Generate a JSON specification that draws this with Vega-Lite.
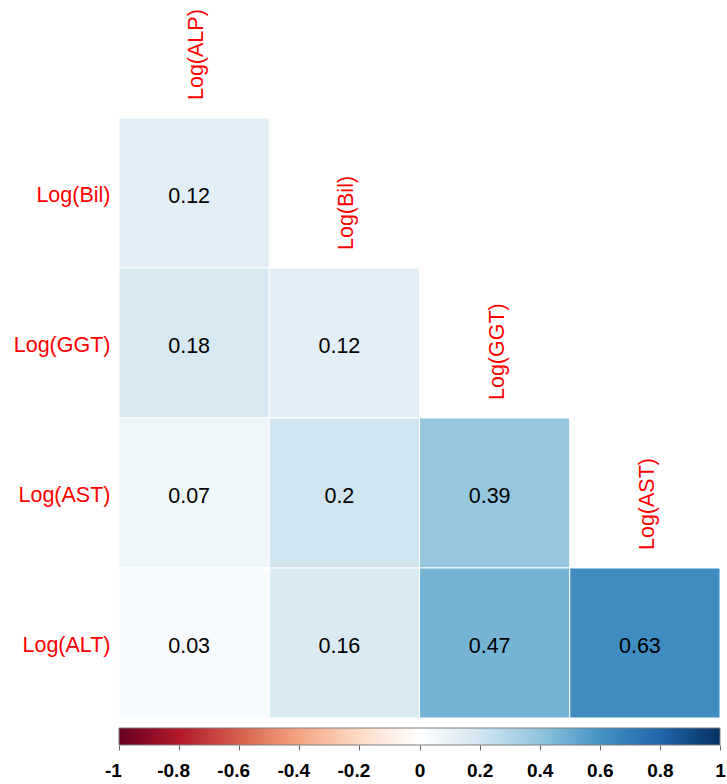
{
  "$schema": "https://vega.github.io/schema/vega-lite/v6.json",
  "padding": {"left": 13, "top": 9, "right": 0, "bottom": 0},
  "bounds": "flush",
  "spacing": 10,
  "config": {
    "font": "Liberation Sans",
    "view": {"stroke": null}
  },
  "datasets": {
    "cells": [
      {"row": "Log(Bil)", "col": "Log(ALP)", "r": 0.12},
      {"row": "Log(GGT)", "col": "Log(ALP)", "r": 0.18},
      {"row": "Log(GGT)", "col": "Log(Bil)", "r": 0.12},
      {"row": "Log(AST)", "col": "Log(ALP)", "r": 0.07},
      {"row": "Log(AST)", "col": "Log(Bil)", "r": 0.2},
      {"row": "Log(AST)", "col": "Log(GGT)", "r": 0.39},
      {"row": "Log(ALT)", "col": "Log(ALP)", "r": 0.03},
      {"row": "Log(ALT)", "col": "Log(Bil)", "r": 0.16},
      {"row": "Log(ALT)", "col": "Log(GGT)", "r": 0.47},
      {"row": "Log(ALT)", "col": "Log(AST)", "r": 0.63}
    ],
    "collabels": [
      {"var": "Log(ALP)", "top": "Log(Bil)"},
      {"var": "Log(Bil)", "top": "Log(GGT)"},
      {"var": "Log(GGT)", "top": "Log(AST)"},
      {"var": "Log(AST)", "top": "Log(ALT)"}
    ],
    "bar": [{"lo": -1, "hi": 1}]
  },
  "vconcat": [
    {
      "width": 601,
      "height": 600,
      "layer": [
        {
          "data": {"name": "cells"},
          "mark": {"type": "rect", "stroke": "white", "strokeWidth": 1},
          "encoding": {
            "x": {"field": "col", "type": "nominal", "axis": null,
                  "scale": {"domain": ["Log(ALP)", "Log(Bil)", "Log(GGT)", "Log(AST)"], "paddingInner": 0, "paddingOuter": 0}},
            "y": {"field": "row", "type": "nominal",
                  "scale": {"domain": ["Log(Bil)", "Log(GGT)", "Log(AST)", "Log(ALT)"], "paddingInner": 0, "paddingOuter": 0},
                  "axis": {"title": null, "ticks": false, "domain": false, "labelColor": "#FF0000", "labelFontSize": 21.5, "labelPadding": 9, "labelOffset": 3, "labelFont": "Liberation Sans"}},
            "color": {"field": "r", "type": "quantitative", "legend": null,
                      "scale": {"interpolate": "rgb",
                                "domain": [-1, -0.8, -0.6, -0.4, -0.2, 0, 0.2, 0.4, 0.6, 0.8, 1],
                                "range": ["#67001F", "#B2182B", "#D6604D", "#F4A582", "#FDDBC7", "#FFFFFF", "#D1E5F0", "#92C5DE", "#4393C3", "#2166AC", "#053061"]}}
          }
        },
        {
          "data": {"name": "cells"},
          "mark": {"type": "text", "fontSize": 21.5, "color": "#000000", "xOffset": -5, "yOffset": 3.5},
          "encoding": {
            "x": {"field": "col", "type": "nominal"},
            "y": {"field": "row", "type": "nominal"},
            "text": {"field": "r", "type": "nominal"}
          }
        },
        {
          "data": {"name": "collabels"},
          "mark": {"type": "text", "angle": 270, "align": "left", "baseline": "middle", "yOffset": -18, "xOffset": 3, "fontSize": 21.5, "color": "#FF0000"},
          "encoding": {
            "x": {"field": "var", "type": "nominal"},
            "y": {"field": "top", "type": "nominal", "bandPosition": 0},
            "text": {"field": "var", "type": "nominal"}
          }
        }
      ]
    },
    {
      "width": 601,
      "height": 17,
      "data": {"name": "bar"},
      "mark": {
        "type": "rect",
        "stroke": "#7f7f7f",
        "strokeWidth": 1,
        "fill": {
          "gradient": "linear", "x1": 0, "y1": 0, "x2": 1, "y2": 0,
          "stops": [
            {"offset": 0, "color": "#67001F"},
            {"offset": 0.1, "color": "#B2182B"},
            {"offset": 0.2, "color": "#D6604D"},
            {"offset": 0.3, "color": "#F4A582"},
            {"offset": 0.4, "color": "#FDDBC7"},
            {"offset": 0.5, "color": "#FFFFFF"},
            {"offset": 0.6, "color": "#D1E5F0"},
            {"offset": 0.7, "color": "#92C5DE"},
            {"offset": 0.8, "color": "#4393C3"},
            {"offset": 0.9, "color": "#2166AC"},
            {"offset": 1, "color": "#053061"}
          ]
        }
      },
      "encoding": {
        "x": {"field": "lo", "type": "quantitative",
              "scale": {"domain": [-1, 1], "nice": false, "zero": false},
              "axis": {"title": null, "values": [-1, -0.8, -0.6, -0.4, -0.2, 0, 0.2, 0.4, 0.6, 0.8, 1],
                       "labelExpr": "datum.value + ''", "domain": false, "grid": false,
                       "tickSize": 5, "tickColor": "#666666", "labelFontSize": 19, "labelFontWeight": "bold",
                       "labelOffset": {"condition": {"test": "datum.value < 0", "value": -6}, "value": 0},
                       "labelColor": "#000000", "labelPadding": 11, "labelFlush": false, "labelOverlap": false}},
        "x2": {"field": "hi"}
      }
    }
  ]
}
